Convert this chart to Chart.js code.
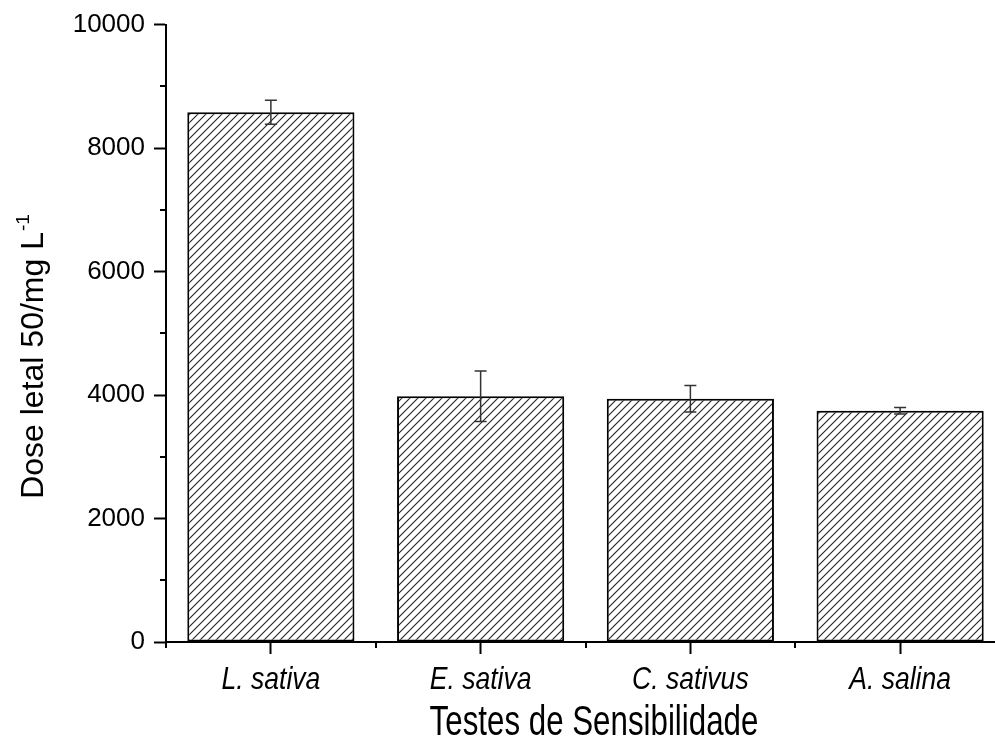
<!DOCTYPE html>
<html lang="pt">
<head>
    <meta charset="UTF-8">
    <script src="https://cdn.jsdelivr.net/npm/chart.js"></script>
    <style>
        html, body {
            margin: 0;
            padding: 0;
            overflow: hidden;
            background: #fff;
        }
        #chartDiv {
            width: 995px;
            height: 744px;
            overflow: hidden;
        }
    </style>
    <title>Dose letal 50</title>
</head>
<body>
    <div id="chartDiv">
        <canvas id="doseChart" width="1005" height="744"></canvas>
    </div>
<script>
    // data
    var categories = ['L. sativa', 'E. sativa', 'C. sativus', 'A. salina'];
    var doseValues = [8580, 3980, 3940, 3745];
    var doseErrors = [195, 410, 215, 53];
    var yMin = 0;
    var yMax = 10000;
    var yMajor = 2000;
    var yMinor = 1000;

    var xTitle = 'Testes de Sensibilidade';
    var yTitle = 'Dose letal 50/mg L';
    var yTitleSup = '-1';

    var sansFont = '"Liberation Sans", Arial, sans-serif';

    // diagonal hatch for the bars
    function makeHatch() {
        let c = document.createElement('canvas');
        c.width = 8;
        c.height = 8;
        let g = c.getContext('2d');
        g.fillStyle = '#fff';
        g.fillRect(0, 0, 8, 8);
        g.strokeStyle = '#222';
        g.lineWidth = 1.1;
        g.beginPath();
        g.moveTo(-2, 10); g.lineTo(10, -2);
        g.moveTo(-2, 2); g.lineTo(2, -2);
        g.moveTo(6, 10); g.lineTo(10, 6);
        g.stroke();
        return g.createPattern(c, 'repeat');
    }

    // the x texts in the figure are narrow, so squeeze them sideways
    function narrowText(ctx, txt, x, y, font, sx) {
        ctx.save();
        ctx.font = font;
        ctx.translate(x, y);
        ctx.scale(sx, 1);
        ctx.fillText(txt, 0, 0);
        ctx.restore();
    }

    var extras = {
        id: 'extras',
        afterDatasetsDraw(chart) {
            let ctx = chart.ctx;
            let ys = chart.scales.y;
            let meta = chart.getDatasetMeta(0);
            // error bars
            ctx.save();
            ctx.strokeStyle = '#333';
            ctx.lineWidth = 1.5;
            for (let i = 0; i < doseValues.length; i++) {
                let x = meta.data[i].x;
                let yt = ys.getPixelForValue(doseValues[i] + doseErrors[i]);
                let yb = ys.getPixelForValue(doseValues[i] - doseErrors[i]);
                ctx.beginPath();
                ctx.moveTo(x, yt); ctx.lineTo(x, yb);
                ctx.moveTo(x - 6, yt); ctx.lineTo(x + 6, yt);
                ctx.moveTo(x - 6, yb); ctx.lineTo(x + 6, yb);
                ctx.stroke();
            }
            ctx.restore();
        },
        afterDraw(chart) {
            let ctx = chart.ctx;
            let xs = chart.scales.x;
            let ys = chart.scales.y;
            let area = chart.chartArea;
            ctx.save();
            ctx.strokeStyle = '#000';
            ctx.lineWidth = 2;
            // minor ticks y
            for (let v = yMin + yMinor; v < yMax; v += yMajor) {
                let y = Math.round(ys.getPixelForValue(v));
                ctx.beginPath();
                ctx.moveTo(area.left - 6, y); ctx.lineTo(area.left, y);
                ctx.stroke();
            }
            // minor ticks x, between categories
            for (let i = 0; i <= categories.length; i++) {
                let x = Math.round((xs.getPixelForValue(i - 1) + xs.getPixelForValue(i)) / 2);
                ctx.beginPath();
                ctx.moveTo(x, area.bottom); ctx.lineTo(x, area.bottom + 6);
                ctx.stroke();
            }

            ctx.fillStyle = '#000';
            ctx.textBaseline = 'alphabetic';
            ctx.textAlign = 'center';

            // category labels
            for (let i = 0; i < categories.length; i++) {
                narrowText(ctx, categories[i], xs.getPixelForValue(i), area.bottom + 47,
                    'italic 32px ' + sansFont, 0.83);
            }

            // axis titles
            narrowText(ctx, xTitle, 594, 735, '42px ' + sansFont, 0.745);

            ctx.translate(43, 357);
            ctx.rotate(-Math.PI / 2);
            ctx.font = '32px ' + sansFont;
            let w1 = ctx.measureText(yTitle).width;
            ctx.font = '19px ' + sansFont;
            let w2 = ctx.measureText(yTitleSup).width;
            let start = -(w1 + w2) / 2;
            ctx.textAlign = 'left';
            ctx.font = '32px ' + sansFont;
            ctx.fillText(yTitle, start, 0);
            ctx.font = '19px ' + sansFont;
            ctx.fillText(yTitleSup, start + w1 + 1, -14);
            ctx.restore();
        }
    };

    const cv = document.getElementById('doseChart');

    var chart = new Chart(cv, {
        type: 'bar',
        data: {
            labels: categories,
            datasets: [
                {
                    data: doseValues,
                    backgroundColor: makeHatch(),
                    borderColor: '#000',
                    borderWidth: 2,
                    borderSkipped: false,
                    categoryPercentage: 1.0,
                    barPercentage: 0.797
                }
            ]
        },
        options: {
            responsive: false,
            animation: false,
            devicePixelRatio: 1,
            layout: {
                padding: { top: 23, left: 0, right: 0, bottom: 0 }
            },
            plugins: {
                legend: { display: false },
                tooltip: { enabled: false }
            },
            scales: {
                x: {
                    offset: true,
                    afterFit: function(s) { s.height = 102; },
                    grid: {
                        offset: false,
                        drawOnChartArea: false,
                        drawTicks: true,
                        tickLength: 12,
                        tickColor: '#000',
                        tickWidth: 2
                    },
                    border: { display: true, color: '#000', width: 2 },
                    ticks: {
                        // labels drawn squeezed in the plugin
                        color: 'rgba(0,0,0,0)',
                        padding: 10,
                        maxRotation: 0,
                        font: { family: sansFont, size: 26, style: 'italic' }
                    }
                },
                y: {
                    min: yMin,
                    max: yMax,
                    afterFit: function(s) { s.width = 166; },
                    grid: {
                        drawOnChartArea: false,
                        drawTicks: true,
                        tickLength: 12,
                        tickWidth: 2,
                        tickColor: function(c) {
                            return (c.tick && c.tick.value % yMajor === 0) ? '#000' : 'rgba(0,0,0,0)';
                        }
                    },
                    border: { display: true, color: '#000', width: 2 },
                    ticks: {
                        stepSize: yMinor,
                        color: '#000',
                        padding: 9,
                        font: { family: sansFont, size: 26 },
                        callback: function(v) {
                            return v % yMajor === 0 ? v : '';
                        }
                    }
                }
            }
        },
        plugins: [extras]
    });
</script>
</body>
</html>
